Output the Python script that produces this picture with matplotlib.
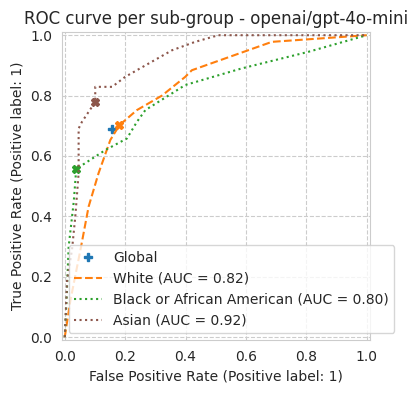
import numpy as np
import matplotlib
matplotlib.use("Agg")
import matplotlib.pyplot as plt
import seaborn as sns

sns.set_style("whitegrid", {"grid.linestyle": "--"})

# points
white_fpr = [0.0, 0.019, 0.052, 0.079, 0.112, 0.151, 0.181, 0.239, 0.322, 0.399, 0.421, 0.686, 1.0]
white_tpr = [0.0, 0.123, 0.289, 0.432, 0.543, 0.653, 0.702, 0.752, 0.800, 0.862, 0.884, 0.978, 1.0]

black_fpr = [0.0, 0.005, 0.013, 0.030, 0.038, 0.135, 0.206, 0.239, 0.267, 0.399, 0.586, 0.807, 1.0]
black_tpr = [0.0, 0.100, 0.300, 0.450, 0.557, 0.620, 0.658, 0.713, 0.752, 0.835, 0.890, 0.945, 1.0]

asian_fpr = [0.0, 0.008, 0.024, 0.035, 0.046, 0.046, 0.057, 0.101, 0.101, 0.157, 0.200, 0.267, 0.355, 0.432, 0.509, 1.0]
asian_tpr = [0.0, 0.190, 0.289, 0.400, 0.543, 0.691, 0.713, 0.779, 0.829, 0.829, 0.862, 0.900, 0.950, 0.978, 1.0, 1.0]

groups = ["White", "Black or African American", "Asian"]
aucs = [0.82, 0.80, 0.92]
colors = ["tab:orange", "tab:green", "tab:brown"]
styles = ["--", ":", ":"]
curves = [(white_fpr, white_tpr), (black_fpr, black_tpr), (asian_fpr, asian_tpr)]
# operating points per group (X markers)
op_fpr = [0.181, 0.038, 0.101]
op_tpr = [0.702, 0.557, 0.779]

global_point = (0.157, 0.689)

fig = plt.figure(figsize=(4.17, 3.93), dpi=100)
ax = fig.add_axes([0.148, 0.134, 0.7386, 0.7845])

ax.plot(global_point[0], global_point[1], "P", color="tab:blue", markersize=6, linestyle="none", label="Global")
for (fpr, tpr), name, auc, c, ls, ox, oy in zip(curves, groups, aucs, colors, styles, op_fpr, op_tpr):
    ax.plot(fpr, tpr, linestyle=ls, color=c, linewidth=1.5, label=f"{name} (AUC = {auc:.2f})")
    ax.plot(ox, oy, "X", color=c, markersize=6)

ax.set_xlim(-0.01, 1.01)
ax.set_ylim(-0.01, 1.01)
ax.set_aspect("equal")
ax.set_xlabel("False Positive Rate (Positive label: 1)")
ax.set_ylabel("True Positive Rate (Positive label: 1)")
ax.set_title("ROC curve per sub-group - openai/gpt-4o-mini")
ax.legend(loc="lower left")

fig.savefig("out.png", dpi=100)
